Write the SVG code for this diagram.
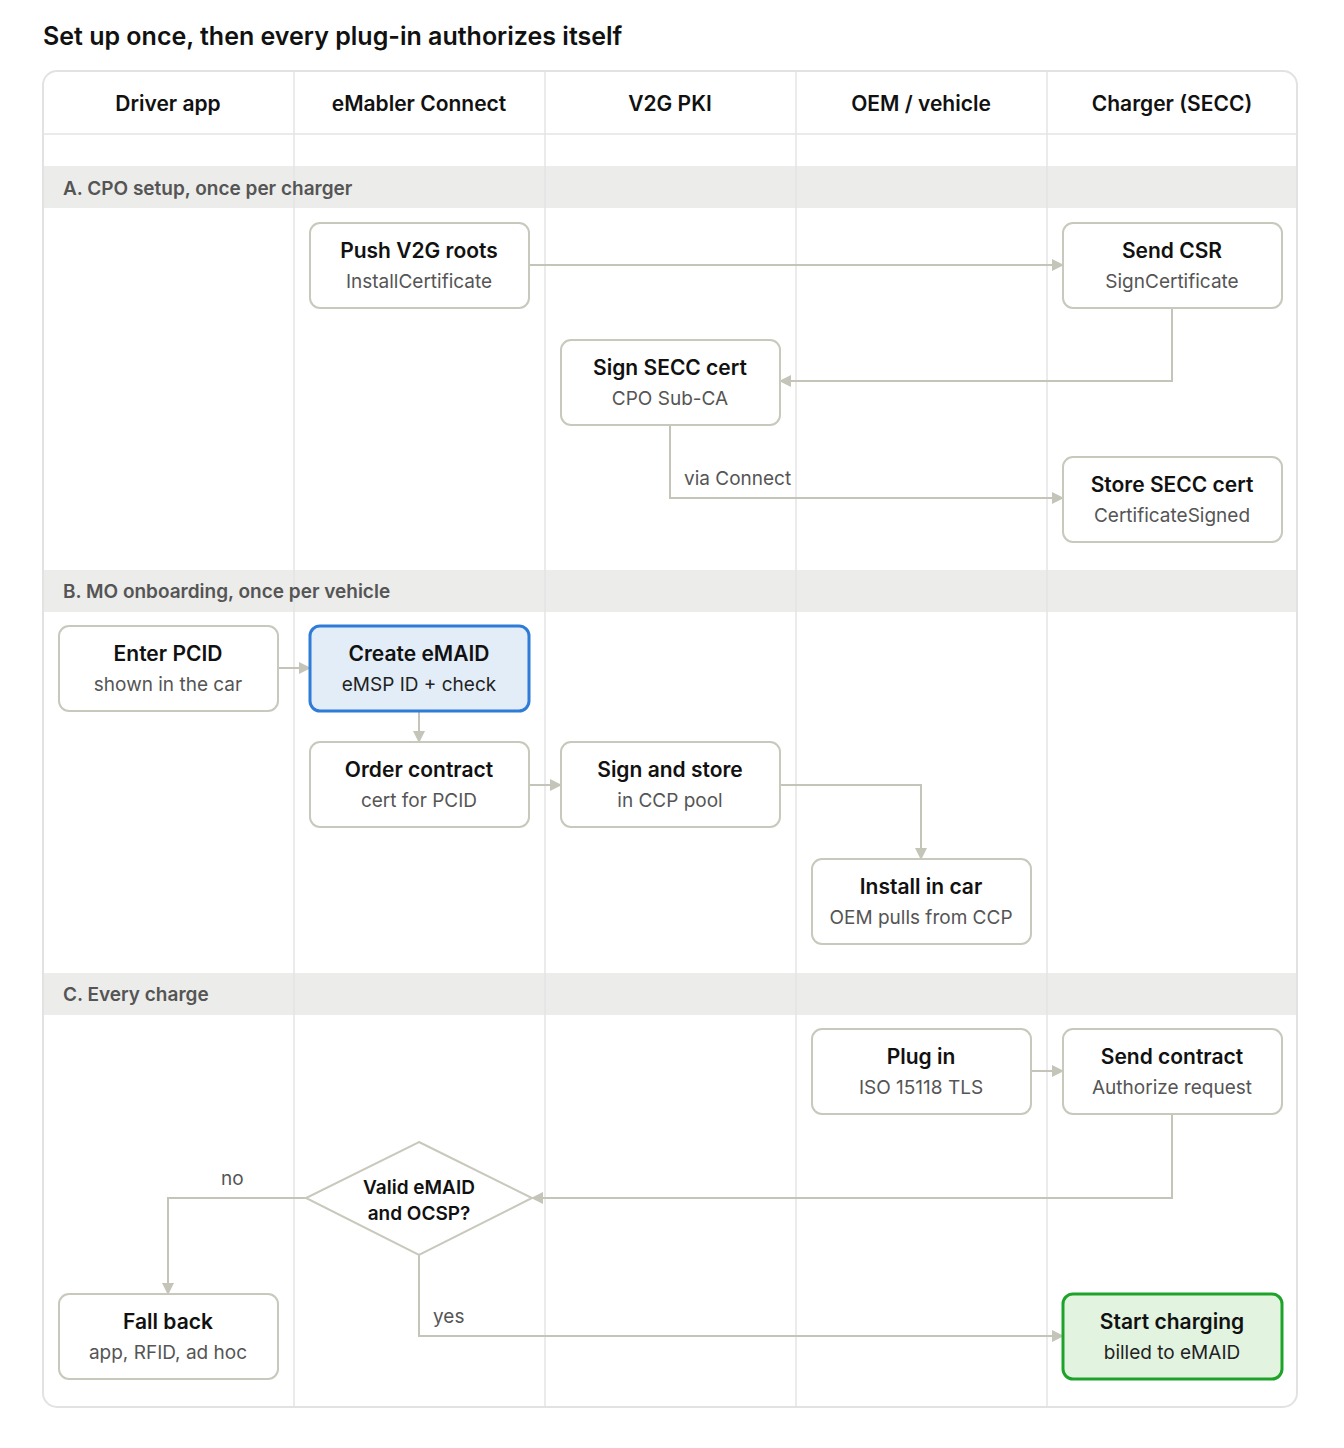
<svg xmlns="http://www.w3.org/2000/svg" width="1344" height="1448" viewBox="0 0 1344 1448">
<defs>
<marker id="ah" markerWidth="12" markerHeight="12" refX="11" refY="6" orient="auto" markerUnits="userSpaceOnUse"><path d="M0,0 L12,6 L0,12 Z" fill="#c4c4b8"/></marker>
</defs>
<style>
text{font-family:Inter,"Noto Sans",sans-serif}
.t{font-size:21px;font-weight:600;fill:#111;text-anchor:middle}
.s{font-size:19px;fill:#555;text-anchor:middle}
.h{font-size:21px;font-weight:600;fill:#111;text-anchor:middle}
.b{font-size:19px;font-weight:600;fill:#555}
.n{fill:#fff;stroke:#c8c8bc;stroke-width:2}
.c{fill:none;stroke:#c4c4b8;stroke-width:2;marker-end:url(#ah)}
.l{font-size:19px;fill:#555}
.g{stroke:#e4e4e4;stroke-width:1.5}
</style>
<rect width="1344" height="1448" fill="#fff"/>
<text x="43" y="45" font-size="25" font-weight="600" fill="#111">Set up once, then every plug-in authorizes itself</text>
<g id="frame">
<rect x="43" y="71" width="1254" height="1336" rx="14" fill="#fff" stroke="#e2e2e2" stroke-width="2"/>
<rect x="44" y="166" width="1252" height="42" fill="#ececea"/>
<rect x="44" y="570" width="1252" height="42" fill="#ececea"/>
<rect x="44" y="973" width="1252" height="42" fill="#ececea"/>
<line class="g" x1="43" y1="134" x2="1297" y2="134"/>
<line class="g" x1="294" y1="72" x2="294" y2="1406"/>
<line class="g" x1="545" y1="72" x2="545" y2="1406"/>
<line class="g" x1="796" y1="72" x2="796" y2="1406"/>
<line class="g" x1="1047" y1="72" x2="1047" y2="1406"/>
<text class="h" x="168" y="111">Driver app</text>
<text class="h" x="419" y="111">eMabler Connect</text>
<text class="h" x="670" y="111">V2G PKI</text>
<text class="h" x="921" y="111">OEM / vehicle</text>
<text class="h" x="1172" y="111">Charger (SECC)</text>
<text class="b" x="63" y="195">A. CPO setup, once per charger</text>
<text class="b" x="63" y="598">B. MO onboarding, once per vehicle</text>
<text class="b" x="63" y="1001">C. Every charge</text>
</g>
<g id="connectors">
<path class="c" d="M529,265 H1063"/>
<path class="c" d="M1172,308 V381 H780"/>
<path class="c" d="M670,425 V498 H1063"/>
<text class="l" x="684" y="485">via Connect</text>
<path class="c" d="M278,668 H310"/>
<path class="c" d="M419,711 V742"/>
<path class="c" d="M529,785 H561"/>
<path class="c" d="M780,785 H921 V859"/>
<path class="c" d="M1031,1071 H1063"/>
<path class="c" d="M1172,1114 V1198 H532"/>
<path class="c" d="M306,1198 H168 V1294"/>
<text class="l" x="221" y="1185">no</text>
<path class="c" d="M419,1255 V1336 H1063"/>
<text class="l" x="433" y="1323">yes</text>
</g>
<g id="push"><rect class="n" x="310" y="223" width="219" height="85" rx="10"/><text class="t" x="419" y="258">Push V2G roots</text><text class="s" x="419" y="288">InstallCertificate</text></g>
<g id="csr"><rect class="n" x="1063" y="223" width="219" height="85" rx="10"/><text class="t" x="1172" y="258">Send CSR</text><text class="s" x="1172" y="288">SignCertificate</text></g>
<g id="signsecc"><rect class="n" x="561" y="340" width="219" height="85" rx="10"/><text class="t" x="670" y="375">Sign SECC cert</text><text class="s" x="670" y="405">CPO Sub-CA</text></g>
<g id="storesecc"><rect class="n" x="1063" y="457" width="219" height="85" rx="10"/><text class="t" x="1172" y="492">Store SECC cert</text><text class="s" x="1172" y="522">CertificateSigned</text></g>
<g id="pcid"><rect class="n" x="59" y="626" width="219" height="85" rx="10"/><text class="t" x="168" y="661">Enter PCID</text><text class="s" x="168" y="691">shown in the car</text></g>
<g id="emaid"><rect x="310" y="626" width="219" height="85" rx="10" fill="#e3edf8" stroke="#2f7bd8" stroke-width="3"/><text class="t" x="419" y="661">Create eMAID</text><text class="s" x="419" y="691" fill="#222" style="fill:#222">eMSP ID + check</text></g>
<g id="order"><rect class="n" x="310" y="742" width="219" height="85" rx="10"/><text class="t" x="419" y="777">Order contract</text><text class="s" x="419" y="807">cert for PCID</text></g>
<g id="signstore"><rect class="n" x="561" y="742" width="219" height="85" rx="10"/><text class="t" x="670" y="777">Sign and store</text><text class="s" x="670" y="807">in CCP pool</text></g>
<g id="install"><rect class="n" x="812" y="859" width="219" height="85" rx="10"/><text class="t" x="921" y="894">Install in car</text><text class="s" x="921" y="924">OEM pulls from CCP</text></g>
<g id="plug"><rect class="n" x="812" y="1029" width="219" height="85" rx="10"/><text class="t" x="921" y="1064">Plug in</text><text class="s" x="921" y="1094">ISO 15118 TLS</text></g>
<g id="sendcontract"><rect class="n" x="1063" y="1029" width="219" height="85" rx="10"/><text class="t" x="1172" y="1064">Send contract</text><text class="s" x="1172" y="1094">Authorize request</text></g>
<g id="valid"><polygon class="n" points="419,1142 532,1198 419,1255 306,1198"/><text class="t" x="419" y="1194" style="font-size:19px">Valid eMAID</text><text class="t" x="419" y="1220" style="font-size:19px">and OCSP?</text></g>
<g id="fallback"><rect class="n" x="59" y="1294" width="219" height="85" rx="10"/><text class="t" x="168" y="1329">Fall back</text><text class="s" x="168" y="1359">app, RFID, ad hoc</text></g>
<g id="start"><rect x="1063" y="1294" width="219" height="85" rx="10" fill="#e2f4e0" stroke="#1ea32a" stroke-width="3"/><text class="t" x="1172" y="1329">Start charging</text><text class="s" x="1172" y="1359" style="fill:#222">billed to eMAID</text></g>
</svg>
